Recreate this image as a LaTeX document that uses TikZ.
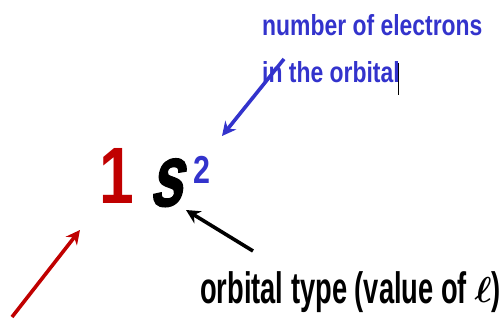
\documentclass[tikz,border=0pt]{standalone}
\usepackage{fontspec}
\usepackage{amsmath}
\setmainfont{Liberation Sans}
\newfontfamily\narrowtop[FakeStretch=0.79]{Liberation Sans}
\newfontfamily\narrowbot[FakeStretch=0.62]{Liberation Sans}
\newfontfamily\narrowbig[FakeStretch=0.78]{Liberation Sans}
\newfontfamily\narrows[FakeStretch=0.66,FakeSlant=0.22,FakeBold=1.5]{Liberation Sans Bold}
\usetikzlibrary{arrows.meta}
\definecolor{elecblue}{RGB}{51,51,204}
\definecolor{shellred}{RGB}{192,0,0}

\begin{document}
\begin{tikzpicture}[x=1pt,y=-1pt,>={Stealth[length=14pt,width=14pt]}]
\tikzstyle{lbl}=[inner sep=0pt,anchor=base west]
\tikzstyle{arr}=[->,line width=3.6pt]
\useasboundingbox (0,0) rectangle (500,320);
% labels
\node[lbl,elecblue,font=\narrowtop\bfseries\fontsize{29}{29}\selectfont] (ne) at (262,36) {number of electrons};
\node[lbl,elecblue,font=\narrowtop\bfseries\fontsize{29}{29}\selectfont] (orb) at (262,83) {in the orbital};
\node[lbl,font=\narrowbot\bfseries\fontsize{44}{44}\selectfont] (type) at (200,303) {orbital type (value of \raisebox{1pt}{\scalebox{1.45}{$\boldsymbol{\ell}$}})};
% the term symbol
\node[lbl,shellred,font=\narrowbig\bfseries\fontsize{80}{80}\selectfont] (n) at (99,204) {1};
\node[lbl,font=\narrows\fontsize{88}{88}\selectfont] (s) at (149,206) {s};
\node[lbl,elecblue,font=\narrowbig\bfseries\fontsize{39}{39}\selectfont] (sup) at (193,184) {2};
% cursor left in the text box
\draw[line width=1pt] (398,63) -- (398,95);
% arrows
\coordinate (redtail) at (12,317); \coordinate (redtip) at (80,230);
\coordinate (bluetail) at (284,59); \coordinate (bluetip) at (222,136);
\coordinate (blacktail) at (253,251); \coordinate (blacktip) at (186,210);
\draw[arr,shellred] (redtail) -- (redtip);
\draw[arr,elecblue] (bluetail) -- (bluetip);
\draw[arr] (blacktail) -- (blacktip);
\end{tikzpicture}
\end{document}
